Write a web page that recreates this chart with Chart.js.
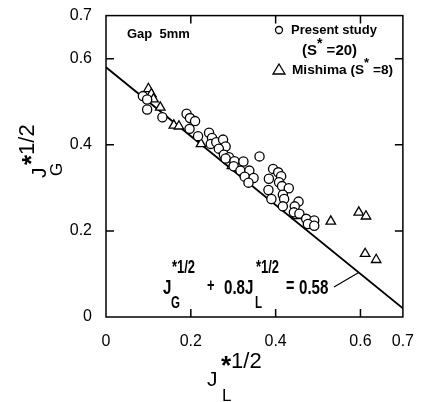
<!DOCTYPE html>
<html>
<head>
<meta charset="utf-8">
<script src="https://cdn.jsdelivr.net/npm/chart.js@4/dist/chart.umd.min.js"></script>
<style>
  html, body { margin: 0; padding: 0; background: #fff; }
  #chart { display: block; }
</style>
</head>
<body>
<canvas id="chart" width="421" height="402"></canvas>
<script>
// Present study (S* = 20), circles
const studyX = [0.087, 0.097, 0.097, 0.133, 0.19, 0.198, 0.21, 0.197, 0.217, 0.243, 0.25, 0.247, 0.26,
  0.276, 0.282, 0.266, 0.278, 0.29, 0.282, 0.303, 0.324, 0.301, 0.317, 0.338, 0.327, 0.348, 0.336,
  0.362, 0.394, 0.406, 0.413, 0.384, 0.408, 0.415, 0.431, 0.383, 0.39, 0.417, 0.42, 0.454, 0.445,
  0.417, 0.443, 0.456, 0.472, 0.491, 0.476, 0.491];
const studyY = [0.513, 0.505, 0.482, 0.464, 0.472, 0.462, 0.455, 0.437, 0.42, 0.428, 0.416, 0.402, 0.406,
  0.412, 0.396, 0.391, 0.377, 0.371, 0.368, 0.362, 0.361, 0.35, 0.34, 0.34, 0.326, 0.323, 0.312,
  0.373, 0.344, 0.336, 0.327, 0.321, 0.313, 0.304, 0.299, 0.295, 0.274, 0.284, 0.274, 0.268, 0.257,
  0.257, 0.243, 0.24, 0.228, 0.224, 0.216, 0.212];

// Mishima (S* = 8), triangles
const mishimaX = [0.1, 0.107, 0.112, 0.128, 0.16, 0.172, 0.224, 0.297, 0.45, 0.53, 0.596, 0.613, 0.611, 0.637];
const mishimaY = [0.53, 0.518, 0.506, 0.487, 0.445, 0.443, 0.402, 0.351, 0.235, 0.222, 0.243, 0.234, 0.147, 0.133];

// J_G^1/2 + 0.8 J_L^1/2 = 0.58
const fitCoef = 0.8;
const fitConst = 0.58;
const fitRangeX = [0, 0.7];

const xTicks = [0, 0.2, 0.4, 0.6, 0.7];
const yTicks = [0, 0.2, 0.4, 0.6, 0.7];
const innerTicks = [0.2, 0.4, 0.6];

const FONT = "'Liberation Sans', Arial, sans-serif";

function toPoints(xs, ys) {
  return xs.map((x, i) => ({ x: x, y: ys[i] }));
}

// draw a run of text pieces one after another, each [text, dy, size, bold, scaleX]
function run(ctx, parts, x, y) {
  let cx = x;
  parts.forEach(p => {
    const [s, dy, size, bold, sx] = p;
    ctx.save();
    ctx.font = (bold ? "bold " : "") + size + "px " + FONT;
    const w = ctx.measureText(s).width * (sx || 1);
    ctx.translate(cx, y + dy);
    ctx.scale(sx || 1, 1);
    ctx.fillText(s, 0, 0);
    ctx.restore();
    cx += w;
  });
}

const decorations = {
  id: "decorations",
  afterDraw(chart) {
    const ctx = chart.ctx;
    const a = chart.chartArea;
    const xs = chart.scales.x, ys = chart.scales.y;
    ctx.save();
    ctx.strokeStyle = "#000";
    ctx.fillStyle = "#000";
    ctx.lineWidth = 1.5;

    // frame
    ctx.strokeRect(a.left, a.top, a.right - a.left, a.bottom - a.top);

    // inner ticks
    const tl = 8;
    ctx.beginPath();
    innerTicks.forEach(v => {
      const px = xs.getPixelForValue(v);
      ctx.moveTo(px, a.bottom); ctx.lineTo(px, a.bottom - tl);
      ctx.moveTo(px, a.top); ctx.lineTo(px, a.top + tl);
      const py = ys.getPixelForValue(v);
      ctx.moveTo(a.left, py); ctx.lineTo(a.left + tl, py);
      ctx.moveTo(a.right, py); ctx.lineTo(a.right - tl, py);
    });
    ctx.stroke();

    // legend
    ctx.lineWidth = 1.3;
    ctx.beginPath();
    ctx.arc(279, 30, 3.5, 0, Math.PI * 2);
    ctx.stroke();
    run(ctx, [["Present study", 0, 13, true, 1.0]], 291, 34);
    run(ctx, [["(S", 0, 15, true, 1.0], ["*", -7, 14, true, 1], [" =20)", 0, 15, true, 1.0]], 302, 55);
    ctx.beginPath();
    ctx.moveTo(279, 64); ctx.lineTo(285, 74); ctx.lineTo(273, 74); ctx.closePath();
    ctx.stroke();
    run(ctx, [["Mishima (S", 0, 13, true, 1.05], ["*", -7, 13, true, 1], [" =8)", 0, 13, true, 1.05]], 292, 74);

    run(ctx, [["Gap  5mm", 0, 13, true, 1]], 127, 38);

    // equation
    const sx = 0.72;
    run(ctx, [["J", 0, 21, true, sx]], 163, 294);
    run(ctx, [["*1/2", 0, 18, true, sx]], 172, 273);
    run(ctx, [["G", 0, 16, true, sx]], 171, 308);
    run(ctx, [["+", 0, 18, true, sx]], 207, 291);
    run(ctx, [["0.8J", 0, 21, true, sx]], 224, 294);
    run(ctx, [["*1/2", 0, 18, true, sx]], 256, 273);
    run(ctx, [["L", 0, 16, true, sx]], 255, 308);
    run(ctx, [["=", 0, 20, true, sx]], 286, 292);
    run(ctx, [["0.58", 0, 21, true, sx]], 299, 294);

    // leader from equation to line
    const lx = 0.596;
    ctx.lineWidth = 1.2;
    ctx.beginPath();
    ctx.moveTo(334, 287);
    ctx.lineTo(xs.getPixelForValue(lx), ys.getPixelForValue(fitConst - fitCoef * lx));
    ctx.stroke();

    // x axis title
    run(ctx, [["J", 0, 21, false, 1]], 207, 386);
    run(ctx, [["*", 6, 26, true, 1], ["1/2", 0, 22, false, 1]], 221, 368);
    run(ctx, [["L", 0, 17, false, 1]], 222, 401);

    // y axis title (rotated)
    ctx.save();
    ctx.translate(46, 178);
    ctx.rotate(-Math.PI / 2);
    run(ctx, [["J", 0, 21, false, 1]], 0, 0);
    run(ctx, [["*", -6, 26, true, 1], ["1/2", -12, 22, false, 1]], 13, 0);
    run(ctx, [["G", 16, 17, false, 1]], 2, 0);
    ctx.restore();

    ctx.restore();
  }
};

new Chart(document.getElementById("chart").getContext("2d"), {
  type: "scatter",
  data: {
    datasets: [
      {
        label: "Present study (S*=20)",
        data: toPoints(studyX, studyY),
        pointStyle: "circle",
        pointRadius: 4.6,
        backgroundColor: "#fff",
        borderColor: "#000",
        borderWidth: 1.3,
      },
      {
        label: "Mishima (S*=8)",
        data: toPoints(mishimaX, mishimaY),
        pointStyle: "triangle",
        pointRadius: 5.5,
        backgroundColor: "#fff",
        borderColor: "#000",
        borderWidth: 1.3,
      },
      {
        type: "line",
        label: "fit",
        data: fitRangeX.map(x => ({ x: x, y: fitConst - fitCoef * x })),
        borderColor: "#000",
        borderWidth: 1.8,
        pointRadius: 0,
        order: 5,
      },
    ],
  },
  options: {
    responsive: false,
    animation: false,
    devicePixelRatio: 1,
    layout: { padding: { top: 15, right: 14, left: 0, bottom: 0 } },
    plugins: { legend: { display: false }, tooltip: { enabled: false } },
    scales: {
      x: {
        type: "linear",
        min: 0,
        max: 0.7,
        afterBuildTicks: (s) => { s.ticks = xTicks.map(v => ({ value: v })); },
        afterFit: (s) => { s.height = 85; },
        grid: { display: false },
        border: { display: false },
        ticks: {
          autoSkip: false,
          maxRotation: 0,
          padding: 7,
          color: "#000",
          font: { size: 16, family: FONT },
          callback: (v) => (v === 0 ? "0" : v.toFixed(1)),
        },
      },
      y: {
        type: "linear",
        min: 0,
        max: 0.7,
        afterBuildTicks: (s) => { s.ticks = yTicks.map(v => ({ value: v })); },
        afterFit: (s) => { s.width = 106; },
        grid: { display: false },
        border: { display: false },
        ticks: {
          autoSkip: false,
          padding: 6,
          color: "#000",
          font: { size: 16, family: FONT },
          callback: (v) => (v === 0 ? "0" : v.toFixed(1)),
        },
      },
    },
  },
  plugins: [decorations],
});
</script>
</body>
</html>
